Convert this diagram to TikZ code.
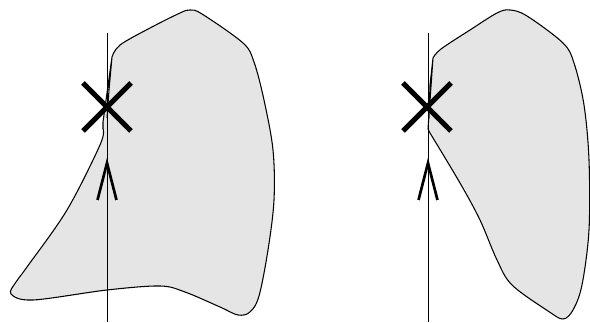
\documentclass[tikz,border=0pt]{standalone}
\usetikzlibrary{calc}
\begin{document}
\begin{tikzpicture}[x=0.75pt,y=-0.75pt,
  blob/.style={fill=black!10,draw=black,line width=0.8pt,line join=round},
  axis/.style={draw=black,line width=0.75pt},
  cross/.style={draw=black,line width=3.8pt},
  chev/.style={draw=black,line width=2pt}]
\useasboundingbox (0,0) rectangle (590,323);
% left shape
\path[blob] (107,118) -- (109,90) -- (112,57)
  plot[smooth,tension=0.55] coordinates {(112,57) (120,45) (150,28) (180,13) (190,10) (202,14) (243,43) (254,62) (264,100) (273,150) (274,200) (268,250) (259,296) (250,312) (238,315) (220,307) (185,292) (160,286) (107,290) (33,300) (11,294) (16,282) (27,267) (67,210) (100,145) (103,129)}
  -- (103,122) -- cycle;
% right shape
\path[blob] (429,118) -- (430,85) -- (433,58)
  plot[smooth,tension=0.55] coordinates {(433,58) (441,49) (470,30) (497,13) (510,10) (527,16) (563,43) (574,63) (584,105) (589,160) (589,230) (582,285) (573,310) (563,319) (548,311) (512,285) (497,260) (480,220) (460,183) (430,133)}
  -- (428,129) -- cycle;
% vertical lines
\coordinate (lt) at (107,33); \coordinate (lb) at (107,322);
\coordinate (rt) at (428,33); \coordinate (rb) at (428,322);
\draw[axis] (lt) -- (lb);
\draw[axis] (rt) -- (rb);
% crosses
\coordinate (lc) at (107,107); \coordinate (rc) at (427,107);
\draw[cross] ($(lc)+(-24,-24)$) -- ($(lc)+(24,24)$);
\draw[cross] ($(lc)+(-24,24)$) -- ($(lc)+(24,-24)$);
\draw[cross] ($(rc)+(-24,-24)$) -- ($(rc)+(24,24)$);
\draw[cross] ($(rc)+(-24,24)$) -- ($(rc)+(24,-24)$);
% chevrons
\coordinate (la) at (107,163); \coordinate (ra) at (428,163);
\draw[chev,line join=miter] ($(la)+(-9.5,37)$) -- (la) -- ($(la)+(9.5,37)$);
\draw[chev,line join=miter] ($(ra)+(-9.5,37)$) -- (ra) -- ($(ra)+(9.5,37)$);
\end{tikzpicture}
\end{document}
